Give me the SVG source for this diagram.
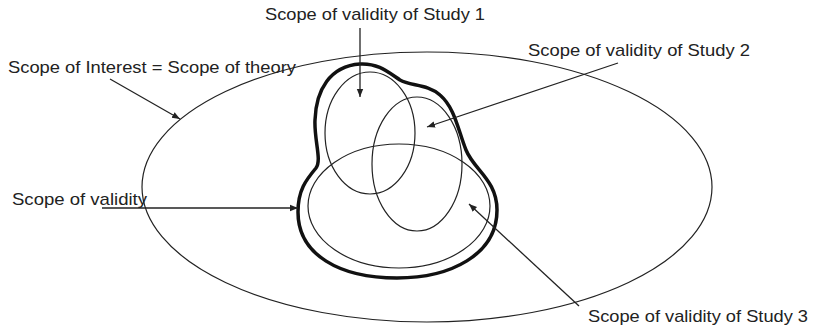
<svg xmlns="http://www.w3.org/2000/svg" width="813" height="330" viewBox="0 0 813 330">
<defs>
<marker id="ah" viewBox="0 0 10 10" refX="10" refY="5" markerWidth="8" markerHeight="8" markerUnits="userSpaceOnUse" orient="auto">
<path d="M0,1 L10,5 L0,9 Z" fill="#222"/>
</marker>
<style>
text{font-family:"Liberation Sans",Arial,sans-serif;font-size:17px;fill:#222}
.thin{fill:none;stroke:#222;stroke-width:1.2}
.thick{fill:none;stroke:#111;stroke-width:3.5}
.con{fill:none;stroke:#222;stroke-width:1.3;marker-end:url(#ah)}
</style>
</defs>
<rect width="813" height="330" fill="#fff"/>
<g id="interest"><ellipse class="thin" cx="427" cy="187" rx="285" ry="135"/></g>
<g id="validity"><path class="thick" d="M360,64 C378,63 388,72 400,80 C410,86 428,84 440,95 C455,108 458,130 466,150 C474,170 497,180 497,210 C497,255 450,278 397,278 C340,278 298,255 298,212 C298,190 306,180 316,168 C322,160 314,140 315,120 C316,90 330,66 360,64 Z"/></g>
<g id="study1"><ellipse class="thin" cx="370" cy="133" rx="45" ry="61"/></g>
<g id="study2"><ellipse class="thin" cx="417" cy="164" rx="45" ry="67"/></g>
<g id="study3"><ellipse class="thin" cx="399" cy="206" rx="91" ry="62"/></g>
<g id="labels">
<text x="265" y="20" textLength="220" lengthAdjust="spacingAndGlyphs">Scope of validity of Study 1</text>
<text x="8" y="73" textLength="288" lengthAdjust="spacingAndGlyphs">Scope of Interest = Scope of theory</text>
<text x="528" y="56" textLength="222" lengthAdjust="spacingAndGlyphs">Scope of validity of Study 2</text>
<text x="12" y="205" textLength="135" lengthAdjust="spacingAndGlyphs">Scope of validity</text>
<text x="588" y="322" textLength="220" lengthAdjust="spacingAndGlyphs">Scope of validity of Study 3</text>
</g>
<g id="connectors">
<line class="con" x1="360" y1="28" x2="360" y2="97"/>
<line class="con" x1="110" y1="79" x2="180" y2="119"/>
<line class="con" x1="618" y1="63" x2="427" y2="127"/>
<line class="con" x1="579" y1="306" x2="469" y2="204"/>
<line class="con" x1="102" y1="208" x2="298" y2="208"/>
</g>
</svg>
